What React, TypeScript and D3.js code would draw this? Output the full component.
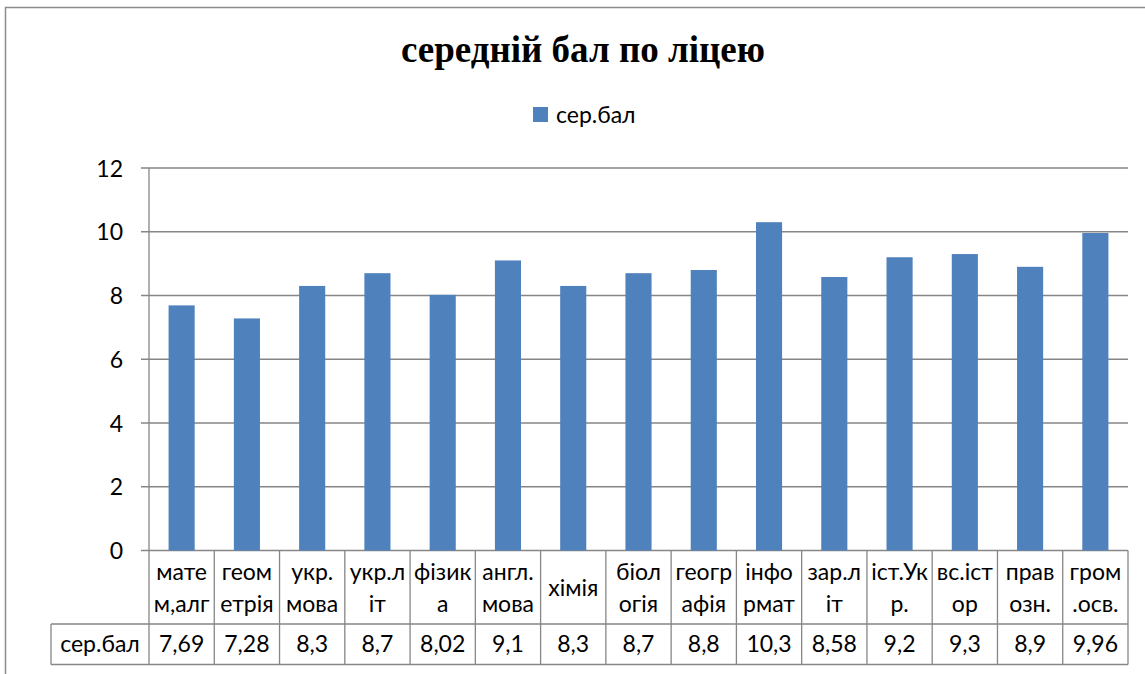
import React from "react";
import * as d3 from "d3";

const categories = [
  "матем,алг", "геометрія", "укр.мова", "укр.літ", "фізика", "англ.мова", "хімія",
  "біологія", "географія", "інформат", "зар.літ", "іст.Укр.", "вс.істор", "правозн.", "гром.осв.",
];
const categoryLines: string[][] = [
  ["мате", "м,алг"], ["геом", "етрія"], ["укр.", "мова"], ["укр.л", "іт"], ["фізик", "а"],
  ["англ.", "мова"], ["хімія"], ["біол", "огія"], ["геогр", "афія"], ["інфо", "рмат"],
  ["зар.л", "іт"], ["іст.Ук", "р."], ["вс.іст", "ор"], ["прав", "озн."], ["гром", ".осв."],
];
const values = [7.69, 7.28, 8.3, 8.7, 8.02, 9.1, 8.3, 8.7, 8.8, 10.3, 8.58, 9.2, 9.3, 8.9, 9.96];
const valueLabels = ["7,69", "7,28", "8,3", "8,7", "8,02", "9,1", "8,3", "8,7", "8,8", "10,3", "8,58", "9,2", "9,3", "8,9", "9,96"];
const yTicks = [0, 2, 4, 6, 8, 10, 12];
const seriesName = "сер.бал";
const title = "середній бал по ліцею";

const W = 1145;
const H = 674;
const plotLeft = 149;
const plotRight = 1128;
const plotTop = 168;
const plotBottom = 550.5;
const catRowBottom = 624;
const dataRowBottom = 664.5;
const tableLeft = 51;
const gridColor = "#868686";
const barColor = "#4F81BD";
const font = "Lato, 'Open Sans', sans-serif";
const fs = 23;

export default function App() {
  const y = d3.scaleLinear().domain([0, 12]).range([plotBottom, plotTop]);
  const xCols = d3.scaleBand<string>().domain(categories).range([plotLeft, plotRight]).padding(0);
  const xBars = d3.scaleBand<string>().domain(categories).range([plotLeft, plotRight]).paddingInner(0.6).paddingOuter(0.3);
  const step = xCols.step();

  return (
    <svg width={W} height={H} style={{ position: "absolute", left: 0, top: 0, background: "#fff" }}>
      <rect x={0} y={0} width={W} height={H} fill="#fff" />
      {/* outer border */}
      <rect x={5.5} y={7.5} width={1200} height={700} fill="none" stroke="#8c8c8c" strokeWidth={1.5} />
      {/* title */}
      <text x={583} y={62} textAnchor="middle" fontFamily="'Liberation Serif', 'Times New Roman', serif" fontWeight="bold" fontSize={37} fill="#000">
        {title}
      </text>
      {/* legend */}
      <rect x={533} y={107} width={15} height={15} fill={barColor} />
      <text x={556} y={122.5} fontFamily={font} fontSize={fs} fill="#000">{seriesName}</text>
      {/* gridlines and ticks */}
      {yTicks.map((t) => (
        <g key={t}>
          <line x1={141} x2={plotRight} y1={y(t)} y2={y(t)} stroke={gridColor} strokeWidth={1.3} />
          <text x={123} y={y(t) + 8.5} textAnchor="end" fontFamily={font} fontSize={fs} fill="#000">{t}</text>
        </g>
      ))}
      {/* y axis */}
      <line x1={plotLeft} x2={plotLeft} y1={plotTop} y2={catRowBottom} stroke={gridColor} strokeWidth={1.3} />
      {/* bars */}
      {categories.map((c, i) => (
        <rect key={c} x={xBars(c)} y={y(values[i])} width={xBars.bandwidth()} height={y(0) - y(values[i])} fill={barColor} />
      ))}
      {/* table */}
      <line x1={tableLeft} x2={plotRight} y1={catRowBottom} y2={catRowBottom} stroke={gridColor} strokeWidth={1.3} />
      <line x1={tableLeft} x2={plotRight} y1={dataRowBottom} y2={dataRowBottom} stroke={gridColor} strokeWidth={1.3} />
      <line x1={tableLeft} x2={tableLeft} y1={catRowBottom} y2={dataRowBottom} stroke={gridColor} strokeWidth={1.3} />
      {categories.map((c) => (
        <line key={"v" + c} x1={(xCols(c) as number) + step} x2={(xCols(c) as number) + step} y1={plotBottom} y2={dataRowBottom} stroke={gridColor} strokeWidth={1.3} />
      ))}
      <line x1={plotLeft} x2={plotLeft} y1={catRowBottom} y2={dataRowBottom} stroke={gridColor} strokeWidth={1.3} />
      <text x={(tableLeft + plotLeft) / 2} y={652} textAnchor="middle" fontFamily={font} fontSize={fs} fill="#000">{seriesName}</text>
      {categories.map((c, i) => {
        const cx = (xCols(c) as number) + step / 2;
        const lines = categoryLines[i];
        return (
          <g key={"t" + c}>
            {lines.length === 1 ? (
              <text x={cx} y={596} textAnchor="middle" fontFamily={font} fontSize={fs} fill="#000">{lines[0]}</text>
            ) : (
              lines.map((l, j) => (
                <text key={j} x={cx} y={580 + j * 32} textAnchor="middle" fontFamily={font} fontSize={fs} fill="#000">{l}</text>
              ))
            )}
            <text x={cx} y={652} textAnchor="middle" fontFamily={font} fontSize={fs} fill="#000">{valueLabels[i]}</text>
          </g>
        );
      })}
    </svg>
  );
}
